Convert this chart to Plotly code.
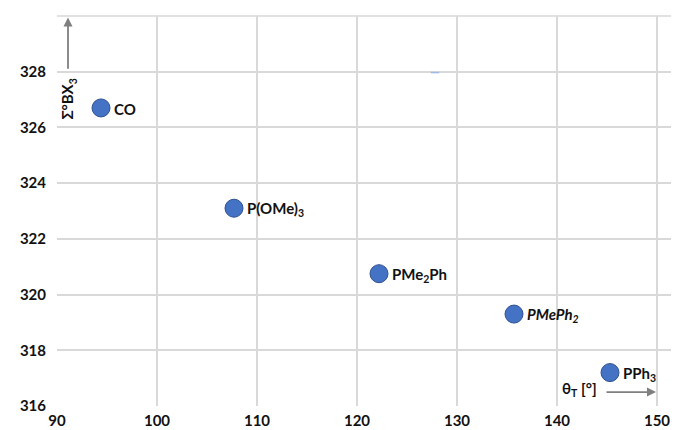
import plotly.graph_objects as go

ligands = ["CO", "P(OMe)<sub>3</sub>", "PMe<sub>2</sub>Ph", "<i>PMePh<sub>2</sub></i>", "PPh<sub>3</sub>"]
theta_t = [94.4, 107.7, 122.2, 135.7, 145.3]
sum_bx3 = [326.7, 323.1, 320.75, 319.3, 317.2]
stray_x = [127.8]
stray_y = [327.97]
x_ticks = [90, 100, 110, 120, 130, 140, 150]
y_ticks = [316, 318, 320, 322, 324, 326, 328, 330]
y_ticktext = ["316", "318", "320", "322", "324", "326", "328", ""]

FONT = "Lato"
grid = "#d9d9d9"
txt = "#111111"

fig = go.Figure()
fig.add_trace(go.Scatter(
    x=theta_t, y=sum_bx3, mode="markers",
    marker=dict(size=18, color="#4472C4", line=dict(color="#2F528F", width=1)),
    showlegend=False, hoverinfo="skip"))
fig.add_trace(go.Scatter(
    x=stray_x, y=stray_y, mode="markers",
    marker=dict(symbol="line-ew", size=6, line=dict(color="#9fb8e6", width=1.5)),
    showlegend=False, hoverinfo="skip"))

for lx, ly, lt in zip(theta_t, sum_bx3, ligands):
    fig.add_annotation(x=lx, y=ly, text=lt, showarrow=False,
                       xanchor="left", xshift=11, yshift=-1,
                       font=dict(family=FONT, size=15, color=txt, weight=700))

# axis title annotations with arrows
fig.add_annotation(x=91.1, y=327.0, text="Σ°BX<sub>3</sub>", showarrow=False,
                   textangle=-90, font=dict(family=FONT, size=15, color=txt, weight=700))
fig.add_annotation(x=91.1, y=329.95, ax=91.1, ay=328.05, xref="x", yref="y",
                   axref="x", ayref="y", text="", showarrow=True,
                   arrowhead=2, arrowsize=1, arrowwidth=1.8, arrowcolor="#7f7f7f")
fig.add_annotation(x=142.2, y=316.6, text="θ<sub>T</sub> [°]", showarrow=False,
                   font=dict(family=FONT, size=15, color=txt, weight=700))
fig.add_annotation(x=149.9, y=316.5, ax=144.8, ay=316.5, xref="x", yref="y",
                   axref="x", ayref="y", text="", showarrow=True,
                   arrowhead=2, arrowsize=1, arrowwidth=1.8, arrowcolor="#7f7f7f")

# top border gridline (330)
fig.add_shape(type="line", xref="paper", yref="paper", x0=0, x1=1, y0=1, y1=1,
              line=dict(color=grid, width=1.5), layer="below")

fig.update_layout(
    width=674, height=430,
    margin=dict(l=57, r=3, t=16, b=24),
    paper_bgcolor="white", plot_bgcolor="white",
    font=dict(family=FONT, size=15, color=txt),
    xaxis=dict(range=[90, 151.4], tickvals=x_ticks, showgrid=True, gridcolor=grid,
               gridwidth=1.5, zeroline=False, showline=False,
               tickfont=dict(family=FONT, size=15, color=txt, weight=700),
               ticklabelstandoff=4, automargin=False),
    yaxis=dict(range=[316, 330], tickvals=y_ticks, ticktext=y_ticktext, showgrid=True,
               gridcolor=grid, gridwidth=1.5, zeroline=False, showline=False,
               tickfont=dict(family=FONT, size=15, color=txt, weight=700),
               ticklabelstandoff=10, automargin=False),
)

fig.write_html("out.html", config={"displayModeBar": False})

with open("out.html", "r", encoding="utf-8") as f:
    html = f.read()
html = html.replace("<body>", '<body style="margin:0;padding:0;overflow:hidden">', 1)
with open("out.html", "w", encoding="utf-8") as f:
    f.write(html)
